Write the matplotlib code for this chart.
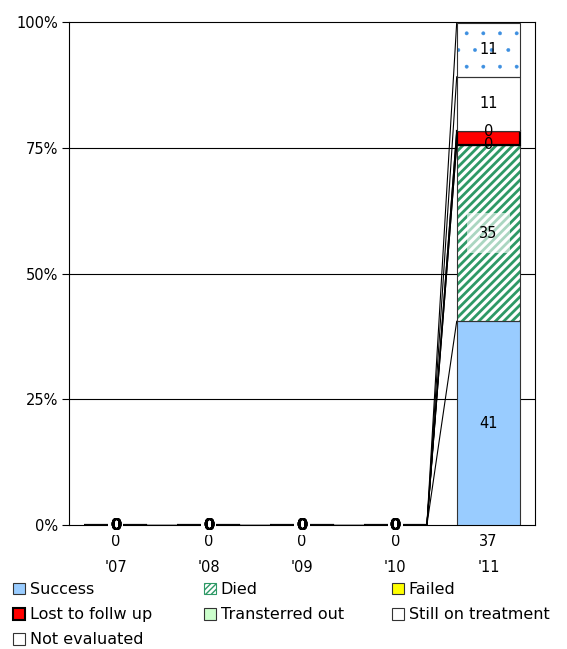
import matplotlib
matplotlib.use("Agg")
import matplotlib.pyplot as plt
import numpy as np
from matplotlib.patches import Patch

years = ["'07", "'08", "'09", "'10", "'11"]
counts = [0, 0, 0, 0, 37]
series_names = ["Success", "Died", "Failed", "Lost to follw up",
                "Transterred out", "Still on treatment", "Not evaluated"]
success = [0, 0, 0, 0, 40.5]
died = [0, 0, 0, 0, 35.1]
failed = [0, 0, 0, 0, 0.0]
lost = [0, 0, 0, 0, 2.7]
transferred = [0, 0, 0, 0, 0.0]
still = [0, 0, 0, 0, 10.8]
not_eval = [0, 0, 0, 0, 10.8]
labels_success = ["0", "0", "0", "0", "41"]
labels_died = ["0", "0", "0", "0", "35"]
labels_failed = ["0", "0", "0", "0", "0"]
labels_lost = ["0", "0", "0", "0", ""]
labels_transferred = ["0", "0", "0", "0", "0"]
labels_still = ["0", "0", "0", "0", "11"]
labels_not_eval = ["0", "0", "0", "0", "11"]

plt.rcParams['font.family'] = ['DejaVu Sans']
plt.rcParams['font.size'] = 10.5

fig = plt.figure(figsize=(5.67, 6.49), dpi=100)
ax = fig.add_axes([69/567, 1-525/649, (535-69)/567, (525-22)/649])

x = np.arange(len(years)) + 0.5
w = 0.68
data = [success, died, failed, lost, transferred, still, not_eval]
labs = [labels_success, labels_died, labels_failed, labels_lost,
        labels_transferred, labels_still, labels_not_eval]
styles = [
    dict(face="#99CCFF", hatch=None, hcol=None, edge="#333333", lw=0.8),
    dict(face="white", hatch="////", hcol="#2E9966", edge="#333333", lw=0.8),
    dict(face="#FFFF00", hatch=None, hcol=None, edge="#333333", lw=0.8),
    dict(face="#FF0000", hatch=None, hcol=None, edge="black", lw=1.6),
    dict(face="#CCFFCC", hatch=None, hcol=None, edge="#333333", lw=0.8),
    dict(face="white", hatch=None, hcol=None, edge="#333333", lw=0.8),
    dict(face="white", hatch=".", hcol="#3D8FE0", edge="#333333", lw=0.8),
]

for yv in [25, 50, 75]:
    ax.axhline(yv, color="black", lw=0.8, zorder=0)

bottom = np.zeros(len(years))
tops = []
for vals, st in zip(data, styles):
    vals = np.array(vals, dtype=float)
    if st["hatch"]:
        hlw = 2.0 if st["hatch"] == "////" else 0.3
        with plt.rc_context({'hatch.linewidth': hlw}):
            ax.bar(x, vals, w, bottom=bottom, color=st["face"], edgecolor=st["hcol"],
                   hatch=st["hatch"], linewidth=0, zorder=2)
        ax.bar(x, vals, w, bottom=bottom, fill=False, edgecolor=st["edge"],
               linewidth=st["lw"], zorder=3)
    else:
        ax.bar(x, vals, w, bottom=bottom, color=st["face"], edgecolor=st["edge"],
               linewidth=st["lw"], zorder=3)
    bottom = bottom + vals
    tops.append(bottom.copy())

# series lines
for t in tops:
    for i in range(len(years) - 1):
        ax.plot([x[i] + w/2, x[i+1] - w/2], [t[i], t[i+1]], color="black", lw=0.8, zorder=4)

# data labels
bottom = np.zeros(len(years))
for si, (vals, lb) in enumerate(zip(data, labs)):
    vals = np.array(vals, dtype=float)
    for i in range(len(years)):
        if not lb[i]:
            continue
        yc = bottom[i] + vals[i] / 2
        kw = {}
        if si == 1 and vals[i] > 0:
            kw['bbox'] = dict(facecolor="white", alpha=0.6, edgecolor="none", pad=9)
        if vals[i] == 0 and i < 4:
            if si == 0:
                kw['bbox'] = dict(facecolor="white", edgecolor="none", pad=1.5)
            kw['fontweight'] = 'bold'
            kw['fontsize'] = 11.5
        ax.text(x[i], yc, lb[i], ha="center", va="center", zorder=6,
                **({'fontsize': 10.5} | kw))
    bottom = bottom + vals

ax.set_xlim(0, len(years))
ax.set_ylim(0, 100)
ax.set_yticks([0, 25, 50, 75, 100])
ax.set_yticklabels(["0%", "25%", "50%", "75%", "100%"])
ax.tick_params(axis='y', length=5, width=0.8, pad=3)
ax.set_xticks(x)
ax.set_xticklabels(years)
ax.tick_params(axis='x', length=0, pad=25)
for sp in ax.spines.values():
    sp.set_linewidth(0.8)
    sp.set_color("black")
for i in range(len(years)):
    ax.text(x[i], -3.2, str(counts[i]), ha="center", va="center", fontsize=10.5,
            transform=ax.transData, clip_on=False)

# legend (three columns)
handles = []
for name, st in zip(series_names, styles):
    if st["hatch"] == "////":
        h = Patch(facecolor="white", edgecolor="#2E9966", hatch="//////", linewidth=0.8)
    elif st["hatch"] == ".":
        h = Patch(facecolor="white", edgecolor="#333333", linewidth=0.8)
    else:
        h = Patch(facecolor=st["face"], edgecolor=st["edge"] if st["edge"] == "black" else "#333333",
                  linewidth=1.5 if st["edge"] == "black" else 0.8)
    handles.append(h)

cols = [[0, 3, 6], [1, 4], [2, 5]]
colx = [13, 204, 392]
for cx, idxs in zip(colx, cols):
    fig.legend([handles[i] for i in idxs], [series_names[i] for i in idxs],
               loc="upper left", bbox_to_anchor=(cx/567, 1-582/649), frameon=False,
               fontsize=11.5, handlelength=0.75, handleheight=0.75, handletextpad=0.3,
               labelspacing=0.64, borderpad=0, borderaxespad=0)

fig.savefig("out.png", dpi=100)
